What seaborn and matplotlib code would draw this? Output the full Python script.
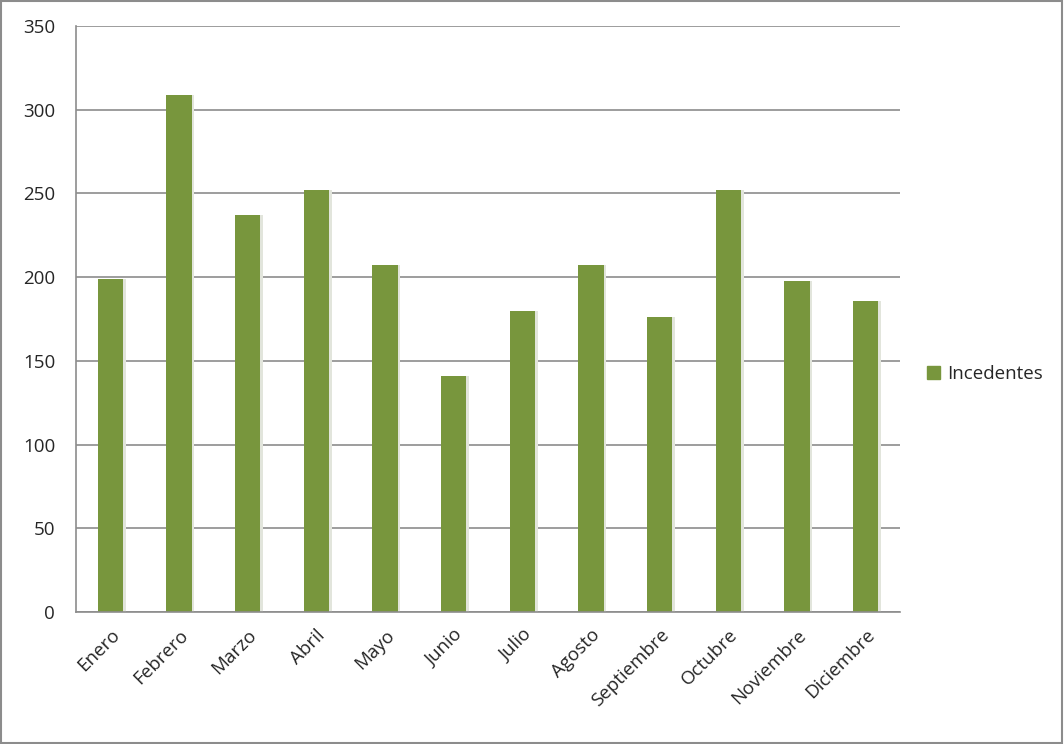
import pandas as pd
import matplotlib
matplotlib.use('Agg')
import matplotlib.pyplot as plt
import seaborn as sns
from matplotlib.patches import Rectangle

# Data
meses = ['Enero', 'Febrero', 'Marzo', 'Abril', 'Mayo', 'Junio', 'Julio',
         'Agosto', 'Septiembre', 'Octubre', 'Noviembre', 'Diciembre']
incidentes = [199, 309, 237, 252, 207, 141, 180, 207, 176, 252, 198, 186]
serie = 'Incedentes'

df = pd.DataFrame({'Mes': meses, 'Valor': incidentes, 'Serie': serie})

sns.set_style('white')
plt.rcParams['font.family'] = ['Open Sans', 'DejaVu Sans']

verde = '#78963d'
gris = '#8c8c8c'
fs = 13.5

fig = plt.figure(figsize=(10.64, 7.44), dpi=100)
ax = fig.add_axes([0.0714, 0.1774, 0.7745, 0.7876])

sns.barplot(data=df, x='Mes', y='Valor', hue='Serie', palette=[verde],
            width=0.37, ax=ax, legend=False, saturation=1, edgecolor='none')

# light shadow on the right side of each bar
for p in ax.patches:
    x = p.get_x() + p.get_width()
    ax.add_patch(Rectangle((x, 0), 0.04, p.get_height(), color='#e2e5dc',
                           zorder=p.get_zorder() - 0.1, lw=0))

ax.set_ylim(0, 350)
ax.set_xlim(-0.5, 11.5)
ax.set_yticks(range(0, 351, 50))
ax.yaxis.grid(True, color=gris, lw=1.2)
ax.set_axisbelow(True)
ax.set_xlabel('')
ax.set_ylabel('')

for s in ['top', 'right']:
    ax.spines[s].set_visible(False)
for s in ['left', 'bottom']:
    ax.spines[s].set_color(gris)
    ax.spines[s].set_linewidth(1.2)

ax.set_xticks([i - 0.5 for i in range(13)], minor=True)
ax.tick_params(axis='x', which='major', length=0, labelsize=fs, pad=10)
ax.tick_params(axis='x', which='minor', length=6, color=gris, width=1.2)
ax.tick_params(axis='y', length=6, color=gris, width=1.2, labelsize=fs, pad=9)
plt.setp(ax.get_xticklabels(), rotation=45, ha='right', rotation_mode='anchor')

# legend
handle = Rectangle((0, 0), 1, 1, color=verde)
fig.legend([handle], [serie], loc='center left', bbox_to_anchor=(0.855, 0.497),
           frameon=False, fontsize=fs, handlelength=0.7, handleheight=0.7,
           handletextpad=0.4)

# outer frame
fig.patches.append(Rectangle((0.001, 0.001), 0.997, 0.997, transform=fig.transFigure,
                             fill=False, edgecolor=gris, lw=1.5))

fig.savefig('out.png', dpi=100)
